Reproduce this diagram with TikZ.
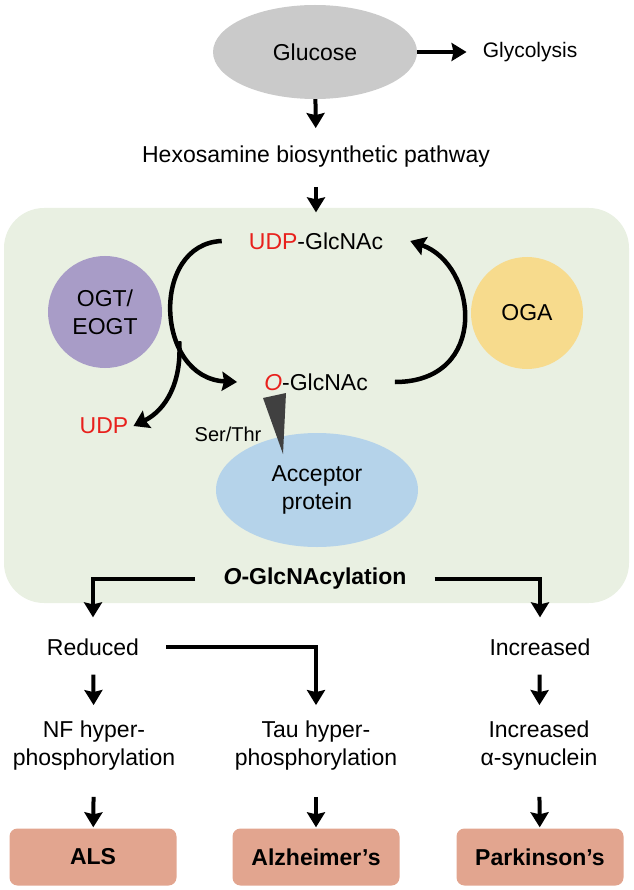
\documentclass[tikz,border=0pt]{standalone}
\usepackage{fontspec}
\setmainfont{Liberation Sans}
\usepackage{tikz}
\usetikzlibrary{arrows.meta,shapes.geometric}
\definecolor{cellgreen}{HTML}{E9F0E2}
\definecolor{glucgray}{HTML}{CACACA}
\definecolor{ogtpurple}{HTML}{A89CC7}
\definecolor{ogayellow}{HTML}{F7DB8D}
\definecolor{accblue}{HTML}{B5D3EA}
\definecolor{disease}{HTML}{E2A58F}
\definecolor{udpred}{HTML}{E8201C}
\definecolor{wedgegray}{HTML}{404040}

\begin{document}
\begin{tikzpicture}[x=1pt,y=-1pt,
    txt/.style={inner sep=3pt,font=\fontsize{23}{28}\selectfont,align=center},
    blob/.style={ellipse,inner sep=0pt,font=\fontsize{23}{28}\selectfont,align=center},
    dis/.style={rectangle,rounded corners=8pt,fill=disease,minimum width=167pt,minimum height=57pt,font=\fontsize{23}{28}\selectfont\bfseries},
    arr/.style={line width=4pt,-{Stealth[length=15pt,width=18pt,inset=2pt]}},
    cyc/.style={line width=4.5pt,-{Stealth[length=15pt,width=19pt,inset=2pt]}}]
      \useasboundingbox (0,0) rectangle (633,890);
      \fill[cellgreen,rounded corners=40pt] (4,208) rectangle (629,603);
      % top
      \node[blob,fill=glucgray,minimum width=204pt,minimum height=94pt] at (315,52) (glu) {Glucose};
      \node[txt,font=\fontsize{21}{25}\selectfont] at (530,52) (gly) {Glycolysis};
      \node[txt] at (316,157) (hbp) {Hexosamine biosynthetic pathway};
      % cycle
      \node[txt,inner xsep=27pt] at (316,241) (udpg) {\textcolor{udpred}{UDP}-GlcNAc};
      \node[blob,fill=ogtpurple,minimum width=114pt,minimum height=112pt] at (105,312) (ogt) {OGT/\\EOGT};
      \node[blob,fill=ogayellow,minimum width=112pt,minimum height=112pt] at (527,313) (oga) {OGA};
      \node[txt,inner xsep=27pt] at (316,382) (oglc) {\textcolor{udpred}{\textit{O}}-GlcNAc};
      \node[txt,inner xsep=5pt] at (104,426) (udp) {\textcolor{udpred}{UDP}};
      \node[txt,font=\fontsize{20}{24}\selectfont] at (228,434) (ser) {Ser/Thr};
      \node[blob,fill=accblue,minimum width=202pt,minimum height=114pt] at (317,490) (acc) {Acceptor\\protein};
      \node[txt,inner xsep=28pt,font=\fontsize{23}{28}\selectfont\bfseries] at (315,579) (ogly) {\textit{O}-GlcNAcylation};
      % outcomes
      \node[txt] at (93,647) (red) {Reduced};
      \node[txt] at (540,647) (inc) {Increased};
      \node[txt] at (94,746) (nf) {NF hyper-\\phosphorylation};
      \node[txt] at (316,746) (tau) {Tau hyper-\\phosphorylation};
      \node[txt] at (539,746) (syn) {Increased\\α-synuclein};
      \node[dis] at (93,857) (als) {ALS};
      \node[dis] at (316,857) (alz) {Alzheimer’s};
      \node[dis] at (540,857) (pd) {Parkinson’s};
      \fill[wedgegray] (263,398) -- (286,393) -- (283,454) -- cycle;
      \draw[arr,shorten >=13pt] (glu) -- (gly);
      \draw[arr,shorten >=15pt] (glu) -- (hbp);
      \draw[arr,shorten <=16pt,shorten >=17pt] (hbp) -- (udpg);
      \draw[cyc] (udpg.west) .. controls (150,244) and (155,378) .. (oglc.west) coordinate[pos=0.65] (fork);
      \draw[cyc] (fork) .. controls (182,382) and (166,410) .. (udp.east);
      \draw[cyc] (oglc.east) .. controls (490,382) and (478,265) .. (udpg.east);
      \draw[arr,shorten >=18pt] (ogly.west) -| (red);
      \draw[arr,shorten >=18pt] (ogly.east) -| (inc);
      \draw[arr,shorten <=24pt,shorten >=13pt] (red.east) -| (tau);
      \draw[arr,shorten <=16pt,shorten >=13pt] (red) -- (nf);
      \draw[arr,shorten <=16pt,shorten >=13pt] (inc) -- (syn);
      \draw[arr,shorten <=23pt,shorten >=1pt] (nf) -- (als);
      \draw[arr,shorten <=23pt,shorten >=1pt] (tau) -- (alz);
      \draw[arr,shorten <=23pt,shorten >=1pt] (syn) -- (pd);
\end{tikzpicture}
\end{document}
